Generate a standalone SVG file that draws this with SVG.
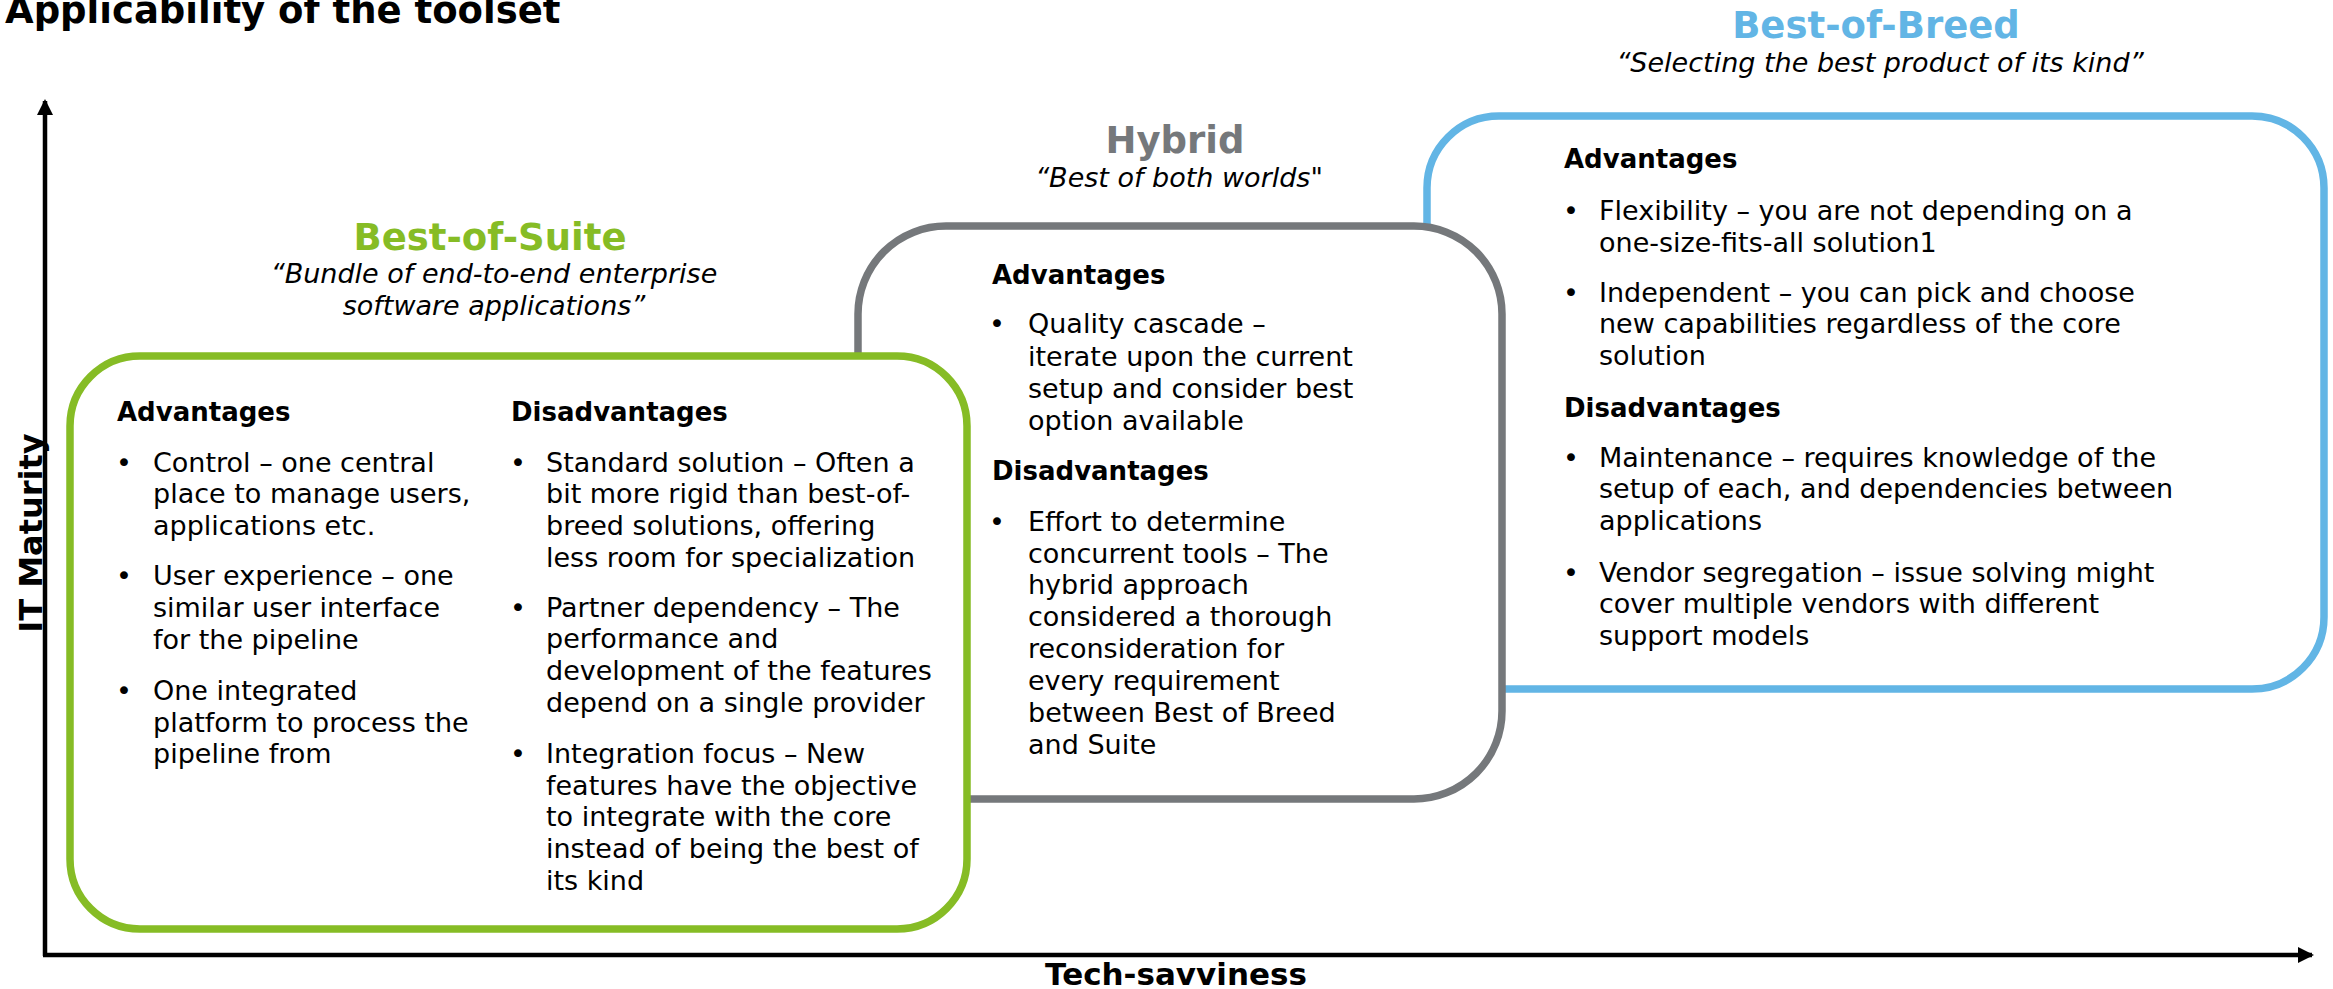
<svg xmlns="http://www.w3.org/2000/svg" width="2333" height="989" viewBox="0 0 2333 989">
<style>
text{font-family:"DejaVu Sans","Verdana",sans-serif;fill:#000}
.b{font-size:27px}
.h{font-size:26px;font-weight:bold}
.t{font-size:37px;font-weight:bold;text-anchor:middle}
.q{font-size:27px;font-style:italic;text-anchor:middle}
.ax{font-size:32px;font-weight:bold}
.box{fill:#fff;stroke-width:7.5}
</style>
<defs>
<marker id="arr" markerWidth="16" markerHeight="16" refX="14" refY="8" orient="auto" markerUnits="userSpaceOnUse">
<path d="M0,0 L16,8 L0,16 Z" fill="#000"/>
</marker>
</defs>
<rect width="2333" height="989" fill="#fff"/>
<text x="5" y="23" style="font-size:37px;font-weight:bold">Applicability of the toolset</text>

<g id="axes">
<path d="M45,956 L45,101" stroke="#000" stroke-width="4.5" fill="none" marker-end="url(#arr)"/>
<path d="M43,955 L2312,955" stroke="#000" stroke-width="4.5" fill="none" marker-end="url(#arr)"/>
<text class="ax" transform="translate(42,533) rotate(-90)" text-anchor="middle">IT Maturity</text>
<text class="ax" x="1176" y="985" text-anchor="middle" style="font-size:31px">Tech-savviness</text>
</g>

<g id="best-of-breed">
<rect class="box" x="1427" y="116" width="897" height="573" rx="72" ry="72" stroke="#62B5E5"/>
<text class="t" x="1876" y="38" style="fill:#62B5E5">Best-of-Breed</text>
<text class="q" x="1880" y="72">“Selecting the best product of its kind”</text>
<text class="h" x="1564" y="168">Advantages</text>
<text class="b" x="1563" y="220">•</text>
<text class="b" x="1599" y="220">Flexibility – you are not depending on a</text>
<text class="b" x="1599" y="252">one-size-fits-all solution1</text>
<text class="b" x="1563" y="302">•</text>
<text class="b" x="1599" y="302">Independent – you can pick and choose</text>
<text class="b" x="1599" y="333">new capabilities regardless of the core</text>
<text class="b" x="1599" y="365">solution</text>
<text class="h" x="1564" y="417">Disadvantages</text>
<text class="b" x="1563" y="467">•</text>
<text class="b" x="1599" y="467">Maintenance – requires knowledge of the</text>
<text class="b" x="1599" y="498">setup of each, and dependencies between</text>
<text class="b" x="1599" y="530">applications</text>
<text class="b" x="1563" y="582">•</text>
<text class="b" x="1599" y="582">Vendor segregation – issue solving might</text>
<text class="b" x="1599" y="613">cover multiple vendors with different</text>
<text class="b" x="1599" y="645">support models</text>
</g>

<g id="hybrid">
<rect class="box" x="858" y="226" width="644" height="573" rx="88" ry="88" stroke="#75787B"/>
<text class="t" x="1175" y="153" style="fill:#75787B">Hybrid</text>
<text class="q" x="1179" y="187">“Best of both worlds"</text>
<text class="h" x="992" y="284">Advantages</text>
<text class="b" x="989" y="333">•</text>
<text class="b" x="1028" y="333">Quality cascade –</text>
<text class="b" x="1028" y="366">iterate upon the current</text>
<text class="b" x="1028" y="398">setup and consider best</text>
<text class="b" x="1028" y="430">option available</text>
<text class="h" x="992" y="480">Disadvantages</text>
<text class="b" x="989" y="531">•</text>
<text class="b" x="1028" y="531">Effort to determine</text>
<text class="b" x="1028" y="563">concurrent tools – The</text>
<text class="b" x="1028" y="594">hybrid approach</text>
<text class="b" x="1028" y="626">considered a thorough</text>
<text class="b" x="1028" y="658">reconsideration for</text>
<text class="b" x="1028" y="690">every requirement</text>
<text class="b" x="1028" y="722">between Best of Breed</text>
<text class="b" x="1028" y="754">and Suite</text>
</g>

<g id="best-of-suite">
<rect class="box" x="70" y="356" width="897" height="573" rx="70" ry="70" stroke="#86BC25"/>
<text class="t" x="490" y="250" style="fill:#86BC25">Best-of-Suite</text>
<text class="q" x="494" y="283">“Bundle of end-to-end enterprise</text>
<text class="q" x="494" y="315">software applications”</text>
<text class="h" x="117" y="421">Advantages</text>
<text class="b" x="116" y="472">•</text>
<text class="b" x="153" y="472">Control – one central</text>
<text class="b" x="153" y="503">place to manage users,</text>
<text class="b" x="153" y="535">applications etc.</text>
<text class="b" x="116" y="585">•</text>
<text class="b" x="153" y="585">User experience – one</text>
<text class="b" x="153" y="617">similar user interface</text>
<text class="b" x="153" y="649">for the pipeline</text>
<text class="b" x="116" y="700">•</text>
<text class="b" x="153" y="700">One integrated</text>
<text class="b" x="153" y="732">platform to process the</text>
<text class="b" x="153" y="763">pipeline from</text>
<text class="h" x="511" y="421">Disadvantages</text>
<text class="b" x="510" y="472">•</text>
<text class="b" x="546" y="472">Standard solution – Often a</text>
<text class="b" x="546" y="503">bit more rigid than best-of-</text>
<text class="b" x="546" y="535">breed solutions, offering</text>
<text class="b" x="546" y="567">less room for specialization</text>
<text class="b" x="510" y="617">•</text>
<text class="b" x="546" y="617">Partner dependency – The</text>
<text class="b" x="546" y="648">performance and</text>
<text class="b" x="546" y="680">development of the features</text>
<text class="b" x="546" y="712">depend on a single provider</text>
<text class="b" x="510" y="763">•</text>
<text class="b" x="546" y="763">Integration focus – New</text>
<text class="b" x="546" y="795">features have the objective</text>
<text class="b" x="546" y="826">to integrate with the core</text>
<text class="b" x="546" y="858">instead of being the best of</text>
<text class="b" x="546" y="890">its kind</text>
</g>
</svg>
